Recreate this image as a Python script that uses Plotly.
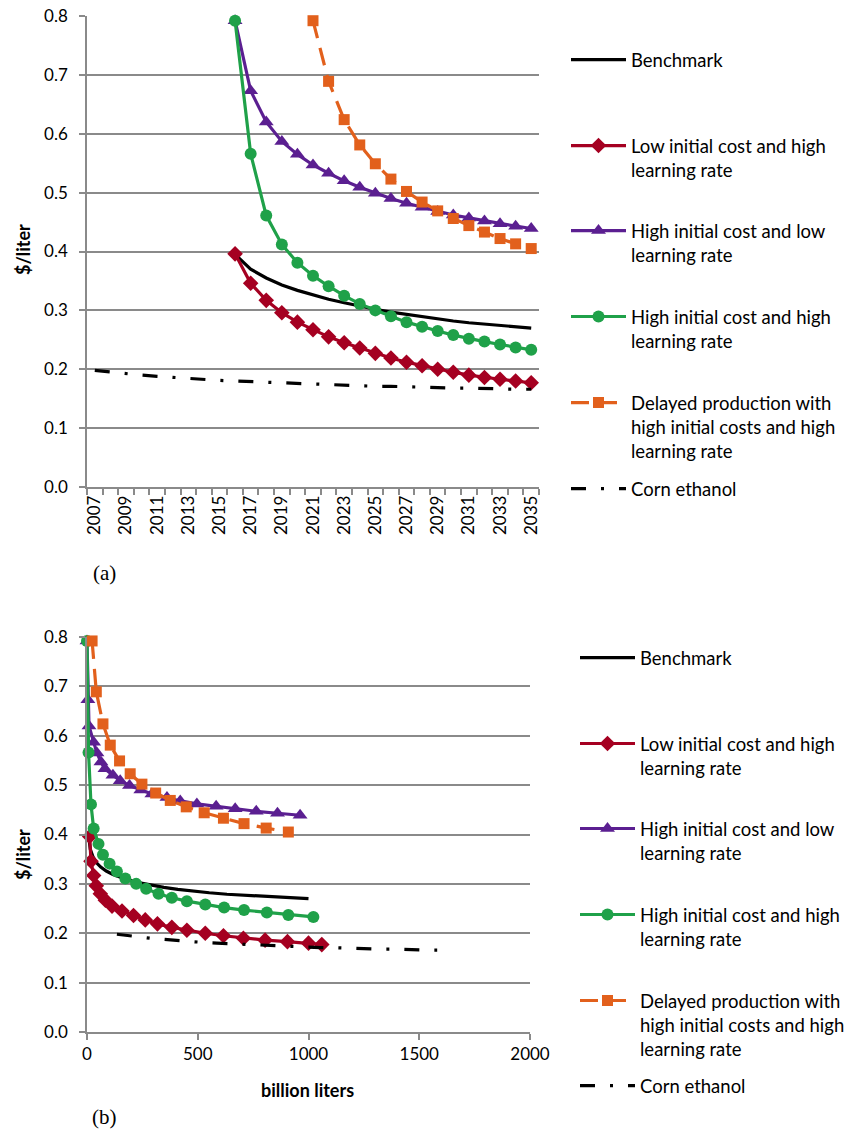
import plotly.graph_objects as go

# ---------------- data ----------------
years_corn = [2007, 2008, 2009, 2010, 2011, 2012, 2013, 2014, 2015, 2016, 2017, 2018, 2019, 2020,
              2021, 2022, 2023, 2024, 2025, 2026, 2027, 2028, 2029, 2030, 2031, 2032, 2033, 2034, 2035]
years_cell = [2016, 2017, 2018, 2019, 2020, 2021, 2022, 2023, 2024, 2025,
              2026, 2027, 2028, 2029, 2030, 2031, 2032, 2033, 2034, 2035]
years_delayed = [2021, 2022, 2023, 2024, 2025, 2026, 2027, 2028, 2029, 2030, 2031, 2032, 2033, 2034, 2035]

benchmark_cost = [0.395, 0.370, 0.355, 0.343, 0.334, 0.326, 0.319, 0.313, 0.307, 0.302,
                  0.297, 0.293, 0.289, 0.285, 0.282, 0.279, 0.277, 0.275, 0.272, 0.270]
low_cost_high_lr = [0.396, 0.346, 0.317, 0.296, 0.280, 0.267, 0.255, 0.245, 0.236, 0.227,
                    0.219, 0.212, 0.206, 0.200, 0.195, 0.190, 0.186, 0.183, 0.180, 0.177]
high_cost_low_lr = [0.792, 0.673, 0.620, 0.587, 0.565, 0.547, 0.533, 0.520, 0.509, 0.499,
                    0.490, 0.482, 0.475, 0.468, 0.462, 0.457, 0.452, 0.447, 0.443, 0.439]
high_cost_high_lr = [0.792, 0.566, 0.461, 0.412, 0.381, 0.359, 0.341, 0.325, 0.311, 0.300,
                     0.290, 0.280, 0.272, 0.265, 0.258, 0.252, 0.247, 0.242, 0.237, 0.233]
delayed_cost = [0.792, 0.689, 0.624, 0.581, 0.549, 0.523, 0.502, 0.484, 0.469, 0.456,
                0.444, 0.433, 0.422, 0.413, 0.405]
corn_cost = [0.198, 0.195, 0.193, 0.190, 0.188, 0.186, 0.184, 0.183, 0.181, 0.180,
             0.179, 0.177, 0.176, 0.175, 0.174, 0.174, 0.173, 0.172, 0.171, 0.171,
             0.170, 0.169, 0.169, 0.168, 0.168, 0.167, 0.167, 0.166, 0.166]

# cumulative production, billion liters (panel b)
benchmark_cum = [8, 15, 27, 42, 62, 87, 117, 152, 192, 238,
                 290, 347, 410, 478, 552, 632, 718, 810, 905, 1000]
low_cost_high_lr_cum = [12, 18, 30, 42, 60, 83, 113, 158, 210, 263,
                        318, 383, 451, 534, 616, 706, 804, 905, 1000, 1060]
high_cost_low_lr_cum = [0, 4, 9, 30, 45, 63, 81, 117, 150, 192,
                        243, 293, 361, 421, 496, 583, 669, 764, 860, 962]
high_cost_high_lr_cum = [0, 7, 18, 30, 52, 72, 102, 135, 173, 222,
                         267, 323, 383, 451, 534, 619, 709, 812, 909, 1022]
delayed_cum = [23, 42, 72, 105, 147, 195, 248, 310, 376, 448, 529, 616, 709, 809, 909]
corn_cum = [135, 184, 233, 283, 333, 383, 433, 484, 535, 586, 637, 688, 740, 792, 844,
            896, 948, 1000, 1052, 1104, 1156, 1208, 1261, 1314, 1367, 1420, 1473, 1527, 1581]

series_names = [
    "Benchmark",
    "Low initial cost and high<br>learning rate",
    "High initial cost and low<br>learning rate",
    "High initial cost and high<br>learning rate",
    "Delayed production with<br>high initial costs and high<br>learning rate",
    "Corn ethanol",
]

x_year_ticks = [2007, 2009, 2011, 2013, 2015, 2017, 2019, 2021, 2023, 2025, 2027, 2029, 2031, 2033, 2035]
y_ticks = [0.0, 0.1, 0.2, 0.3, 0.4, 0.5, 0.6, 0.7, 0.8]
x_cum_ticks = [0, 500, 1000, 1500, 2000]

# ---------------- styles ----------------
W, H = 848, 1133
FONT = "Lato"
FS = 17
LFS = 18.5
GRID = "#8a8a8a"

styles = [
    dict(color="#000000", dash="solid", symbol=None, size=0),
    dict(color="#a50021", dash="solid", symbol="diamond", size=12),
    dict(color="#5b1f91", dash="solid", symbol="triangle-up", size=13),
    dict(color="#1fa149", dash="solid", symbol="circle", size=12),
    dict(color="#e2601c", dash="18px,10px", symbol="square", size=11),
    dict(color="#000000", dash="15px,15px,3px,15px", symbol=None, size=0),
]

panel_a = [
    (years_cell, benchmark_cost),
    (years_cell, low_cost_high_lr),
    (years_cell, high_cost_low_lr),
    (years_cell, high_cost_high_lr),
    (years_delayed, delayed_cost),
    (years_corn, corn_cost),
]
panel_b = [
    (benchmark_cum, benchmark_cost),
    (low_cost_high_lr_cum, low_cost_high_lr),
    (high_cost_low_lr_cum, high_cost_low_lr),
    (high_cost_high_lr_cum, high_cost_high_lr),
    (delayed_cum, delayed_cost),
    (corn_cum, corn_cost),
]

fig = go.Figure()


def add_panel(data, xa, ya, legend_offset):
    for i, ((xs, ys), st, name) in enumerate(zip(data, styles, series_names)):
        mode = "lines+markers" if st["symbol"] else "lines"
        kw = dict(
            x=xs, y=ys, name=name, mode=mode, xaxis=xa, yaxis=ya,
            line=dict(color=st["color"], width=3.2, dash=st["dash"]),
            cliponaxis=False,
            legend="legend" if legend_offset + i == 0 else f"legend{legend_offset + i + 1}",
        )
        if st["symbol"]:
            kw["marker"] = dict(symbol=st["symbol"], size=st["size"], color=st["color"],
                                line=dict(width=0))
        fig.add_trace(go.Scatter(**kw))


add_panel(panel_a, "x", "y", 0)
add_panel(panel_b, "x2", "y2", 6)


def px_x(p):
    return p / W


def px_y(p):
    return 1 - p / H


axis_common = dict(showline=True, linecolor=GRID, linewidth=1.5, zeroline=False, automargin=False,
                   tickfont=dict(family=FONT, size=FS, color="black"))


def ann(text, x, y, size, family=FONT, angle=0):
    return dict(text=text, x=px_x(x), y=px_y(y), xref="paper", yref="paper",
                xanchor="center", yanchor="middle", textangle=angle, showarrow=False,
                font=dict(family=family, size=size, color="black"))


layout = dict(
    template="none",
    width=W, height=H, margin=dict(l=0, r=0, t=0, b=0, autoexpand=False),
    paper_bgcolor="white", plot_bgcolor="white",
    font=dict(family=FONT, size=FS, color="black"),
    xaxis=dict(domain=[px_x(87), px_x(539)], range=[2006.5, 2035.5], anchor="y",
               tickmode="array", tickvals=x_year_ticks, ticks="", tickangle=-90,
               showgrid=False,
               minor=dict(ticks="outside", tick0=2006.5, dtick=1, ticklen=6,
                          tickcolor=GRID, tickwidth=1.5, showgrid=False),
               **axis_common),
    yaxis=dict(domain=[px_y(487), px_y(16)], range=[0, 0.8], anchor="x",
               tickmode="array", tickvals=y_ticks, tickformat=".1f",
               ticks="outside", ticklen=6, tickcolor=GRID, tickwidth=1.5, ticklabelstandoff=8,
               showgrid=True, gridcolor=GRID, gridwidth=1.5, **axis_common),
    xaxis2=dict(domain=[px_x(87), px_x(530)], range=[0, 2000], anchor="y2",
                tickmode="array", tickvals=x_cum_ticks, ticks="outside", ticklen=6,
                tickcolor=GRID, tickwidth=1.5, showgrid=False, **axis_common),
    yaxis2=dict(domain=[px_y(1032), px_y(637)], range=[0, 0.8], anchor="x2",
                tickmode="array", tickvals=y_ticks, tickformat=".1f",
                ticks="outside", ticklen=6, tickcolor=GRID, tickwidth=1.5, ticklabelstandoff=8,
                showgrid=True, gridcolor=GRID, gridwidth=1.5, **axis_common),
    showlegend=True,
    annotations=[
        ann("<b>$/liter</b>", 23, 250, 18, angle=-90),
        ann("<b>$/liter</b>", 23, 855, 18, angle=-90),
        ann("<b>billion liters</b>", 307, 1090, 18),
        ann("(a)", 104, 573, 21, family="Liberation Serif"),
        ann("(b)", 104, 1117, 21, family="Liberation Serif"),
    ],
)

legend_tops_a = [59, 145, 230, 316, 402, 488]
legend_tops_b = [657, 743, 828, 914, 1000, 1085]
for k, (lx, tops) in enumerate([(566, legend_tops_a), (575, legend_tops_b)]):
    for i, c in enumerate(tops):
        idx = k * 6 + i
        key = "legend" if idx == 0 else f"legend{idx + 1}"
        layout[key] = dict(x=px_x(lx), xanchor="left", y=px_y(c - 18), yanchor="top",
                           itemwidth=55, valign="top", bgcolor="rgba(0,0,0,0)",
                           borderwidth=0, font=dict(family=FONT, size=LFS, color="black"),
                           tracegroupgap=0)

fig.update_layout(**layout)
fig.write_html("out.html", config={"displayModeBar": False},
               post_script="document.body.style.margin='0';")
